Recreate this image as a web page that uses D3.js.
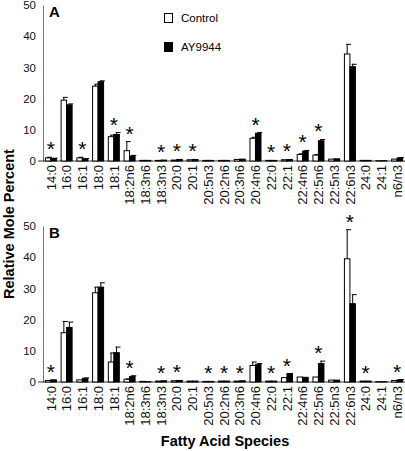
<!DOCTYPE html>
<html>
<head>
<meta charset="utf-8">
<script src="https://cdn.jsdelivr.net/npm/d3@7"></script>
<style>
  html, body { margin: 0; padding: 0; background: #fff; }
  svg { display: block; font-family: "Liberation Sans", Arial, Helvetica, sans-serif; }
</style>
</head>
<body>
<svg id="chart" width="405" height="451"></svg>
<script>
const categories = ["14:0","16:0","16:1","18:0","18:1","18:2n6","18:3n6","18:3n3","20:0","20:1","20:5n3","20:2n6","20:3n6","20:4n6","22:0","22:1","22:4n6","22:5n6","22:5n3","22:6n3","24:0","24:1","n6/n3"];
const seriesNames = ["Control", "AY9944"];

// Panel A
const controlA = [1.0,19.5,1.0,24.0,7.8,3.3,0.2,0.2,0.3,0.4,0.2,0.2,0.5,7.3,0.2,0.4,2.1,1.9,0.6,34.3,0.2,0.1,0.6];
const controlErrA = [0.2,0.9,0.2,0.6,0.5,2.9,0,0,0,0,0,0,0,0.3,0,0,0.2,0.2,0,3.1,0,0,0];
const ayA = [0.8,18.0,0.7,25.4,8.5,1.6,0.2,0.3,0.5,0.5,0.2,0.2,0.6,8.9,0.2,0.5,3.2,6.5,0.7,30.2,0.2,0.1,1.0];
const ayErrA = [0.1,0.3,0.1,0.3,0.6,0.2,0,0,0,0,0,0,0,0.2,0,0,0.2,0.4,0,0.8,0,0,0.1];
const starsA = ["14:0","16:1","18:1","18:2n6","18:3n3","20:0","20:1","20:4n6","22:0","22:1","22:4n6","22:5n6"];

// Panel B
const controlB = [0.5,15.8,0.7,28.6,6.4,0.9,0.2,0.3,0.4,0.3,0.2,0.3,0.3,5.3,0.3,1.4,1.6,1.6,0.6,39.5,0.3,0.1,0.5];
const controlErrB = [0,3.6,0,1.8,2.9,0.1,0,0,0,0,0,0,0,1.1,0,0,0,0,0,9.3,0,0,0];
const ayB = [0.7,17.5,1.2,30.4,9.4,1.8,0.1,0.4,0.5,0.3,0.2,0.3,0.4,5.7,0.3,2.7,1.5,5.9,0.6,25.1,0.3,0.1,0.7];
const ayErrB = [0,1.7,0.1,1.4,1.8,0.2,0,0,0,0,0,0,0,0.2,0,0,0,0.8,0,2.9,0,0,0.1];
const starsB = ["14:0","18:2n6","18:3n3","20:0","20:5n3","20:2n6","20:3n6","22:0","22:1","22:5n6","22:6n3","24:0","n6/n3"];

const yTicks = [0,10,20,30,40,50];

const svg = d3.select("#chart");
const x = d3.scaleBand().domain(categories).range([43, 405]).padding(0);
const barW = 5.5;

function panel(letter, y0, y50, ctrl, ctrlErr, ay, ayErr, stars) {
  const y = d3.scaleLinear().domain([0, 50]).range([y0, y50]);
  const g = svg.append("g");

  // y axis
  const yAxis = d3.axisLeft(y).tickValues(yTicks).tickSize(0).tickPadding(7);
  const ya = g.append("g").attr("transform", "translate(43,0)").call(yAxis);
  ya.select(".domain").attr("stroke", "#777").attr("stroke-width", 1);
  ya.selectAll("text").attr("font-size", 11.5).attr("fill", "#111")
    .attr("font-family", "'Liberation Sans', Arial, sans-serif");

  // baseline
  g.append("line").attr("x1", 38).attr("x2", 405).attr("y1", y(0)).attr("y2", y(0))
    .attr("stroke", "#333").attr("stroke-width", 1);

  // bars
  const rows = categories.map((c, i) => ({c, ctrl: ctrl[i], ce: ctrlErr[i], ay: ay[i], ae: ayErr[i]}));
  g.selectAll("rect.ctrl").data(rows).join("rect").attr("class", "ctrl")
    .attr("x", d => x(d.c) + x.bandwidth()/2 - barW)
    .attr("y", d => y(d.ctrl))
    .attr("width", barW)
    .attr("height", d => y(0) - y(d.ctrl))
    .attr("fill", "#fff").attr("stroke", "#000").attr("stroke-width", 1);
  g.selectAll("rect.ay").data(rows).join("rect").attr("class", "ay")
    .attr("x", d => x(d.c) + x.bandwidth()/2)
    .attr("y", d => y(d.ay))
    .attr("width", barW)
    .attr("height", d => y(0) - y(d.ay))
    .attr("fill", "#000").attr("stroke", "#000").attr("stroke-width", 1);

  // error bars
  const errs = [];
  rows.forEach(d => {
    if (d.ce > 0) errs.push({cx: x(d.c) + x.bandwidth()/2 - barW/2, v: d.ctrl, e: d.ce});
    if (d.ae > 0) errs.push({cx: x(d.c) + x.bandwidth()/2 + barW/2, v: d.ay, e: d.ae});
  });
  g.selectAll("line.err").data(errs).join("line").attr("class", "err")
    .attr("x1", d => d.cx).attr("x2", d => d.cx)
    .attr("y1", d => y(d.v)).attr("y2", d => y(d.v + d.e))
    .attr("stroke", "#000").attr("stroke-width", 1);
  g.selectAll("line.cap").data(errs).join("line").attr("class", "cap")
    .attr("x1", d => d.cx - 1).attr("x2", d => d.cx + 4)
    .attr("y1", d => y(d.v + d.e)).attr("y2", d => y(d.v + d.e))
    .attr("stroke", "#000").attr("stroke-width", 1);

  // stars
  g.selectAll("text.star").data(rows.filter(d => stars.includes(d.c))).join("text").attr("class", "star")
    .attr("x", d => x(d.c) + x.bandwidth()/2)
    .attr("y", d => Math.min(y(d.ctrl + d.ce), y(d.ay + d.ae)) - 1)
    .attr("text-anchor", "middle").attr("font-size", 21).attr("fill", "#000")
    .text("*");

  // category labels
  g.selectAll("text.cat").data(categories).join("text").attr("class", "cat")
    .attr("transform", c => `translate(${x(c) + x.bandwidth()/2 + 4.7},${y(0) + 4}) rotate(-90)`)
    .attr("text-anchor", "end").attr("font-size", 13).attr("fill", "#111")
    .text(c => c);

  // panel letter
  g.append("text").attr("x", 49).attr("y", y50 + 12).attr("font-size", 15)
    .attr("font-weight", "bold").text(letter);
}

panel("A", 161, 5, controlA, controlErrA, ayA, ayErrA, starsA);
panel("B", 382, 226, controlB, controlErrB, ayB, ayErrB, starsB);

// legend
const legend = svg.append("g");
seriesNames.forEach((s, i) => {
  legend.append("rect").attr("x", 164.5).attr("y", 13.5 + i * 29).attr("width", 8).attr("height", 9)
    .attr("fill", i === 0 ? "#fff" : "#000").attr("stroke", "#000");
  legend.append("text").attr("x", 181).attr("y", 22 + i * 29).attr("font-size", 11.5).text(s);
});

// axis titles
svg.append("text").attr("transform", "translate(14,224) rotate(-90)")
  .attr("text-anchor", "middle").attr("font-size", 14.5).attr("font-weight", "bold")
  .text("Relative Mole Percent");
svg.append("text").attr("x", 225).attr("y", 446)
  .attr("text-anchor", "middle").attr("font-size", 14.5).attr("font-weight", "bold")
  .text("Fatty Acid Species");
</script>
</body>
</html>
